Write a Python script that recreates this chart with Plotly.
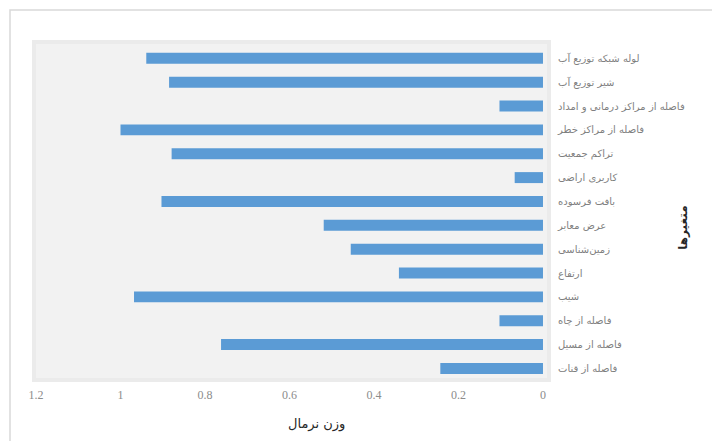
import plotly.graph_objects as go

categories = [
    "لوله شبکه توزیع آب",
    "شیر توزیع آب",
    "فاصله از مراکز درمانی و امداد",
    "فاصله از مراکز خطر",
    "تراکم جمعیت",
    "کاربری اراضی",
    "بافت فرسوده",
    "عرض معابر",
    "زمین‌شناسی",
    "ارتفاع",
    "شیب",
    "فاصله از چاه",
    "فاصله از مسیل",
    "فاصله از قنات",
]
values = [0.939, 0.885, 0.103, 1.0, 0.879, 0.067, 0.903, 0.519, 0.455, 0.341, 0.968, 0.103, 0.762, 0.243]
x_ticks = [0, 0.2, 0.4, 0.6, 0.8, 1, 1.2]
x_tick_labels = ["0", "0.2", "0.4", "0.6", "0.8", "1", "1.2"]
x_title = "وزن نرمال"
y_title = "متغیرها"

W, H = 720, 441
OFF = 8  # page body margin
# plot area in page pixels
PL, PR, PT, PB = 36, 547, 44, 378.5
ml, mr, mt, mb = PL - OFF, W - (PR - OFF), PT - OFF, H - (PB - OFF)
pw, ph = PR - PL, PB - PT


def px(x):
    return (x - PL) / pw


def py(y):
    return (PB - y) / ph


fig = go.Figure(go.Bar(
    x=values, y=categories, orientation="h",
    marker=dict(color="#5b9bd5", line=dict(width=0)),
))

fig.update_layout(
    width=W, height=H,
    margin=dict(l=ml, r=mr, t=mt, b=mb),
    paper_bgcolor="white",
    plot_bgcolor="rgba(0,0,0,0)",
    bargap=0.54,
    showlegend=False,
    font=dict(family="DejaVu Sans", size=11, color="#595959"),
    xaxis=dict(
        range=[1.2, -0.0095], tickvals=x_ticks, ticktext=x_tick_labels,
        showgrid=False, zeroline=False, showline=False, ticks="",
        tickfont=dict(family="Liberation Serif", size=12, color="#8c8c8c"),
        ticklabelstandoff=8,
    ),
    yaxis=dict(
        side="right", range=[13.4, -0.6], showgrid=False, zeroline=False,
        showline=False, ticks="", ticklabelstandoff=10,
        tickfont=dict(family="DejaVu Sans", size=10, color="#7f7f7f"),
    ),
    shapes=[
        dict(type="rect", xref="paper", yref="paper",
             x0=px(PL - 4), x1=px(PR + 4), y0=py(PB + 4), y1=py(PT - 4),
             fillcolor="#ebebeb", line=dict(width=0), layer="below"),
        dict(type="rect", xref="paper", yref="paper",
             x0=0, x1=1, y0=0, y1=1,
             fillcolor="#f2f2f2", line=dict(width=0), layer="below"),
        dict(type="rect", xref="paper", yref="paper",
             x0=px(10), x1=px(W + 20), y0=py(H + 20), y1=py(10),
             fillcolor="rgba(0,0,0,0)", line=dict(color="#d9d9d9", width=1.5), layer="below"),
    ],
    annotations=[
        dict(text=x_title, xref="paper", yref="paper",
             x=px(316.6), y=py(425),
             showarrow=False, font=dict(family="DejaVu Sans", size=13, color="#262626"),
             xanchor="center", yanchor="middle"),
        dict(text="<b>" + y_title + "</b>", xref="paper", yref="paper",
             x=px(683), y=py(228),
             showarrow=False, textangle=-90,
             font=dict(family="DejaVu Sans", size=12, color="#262626"),
             xanchor="center", yanchor="middle"),
    ],
)

fig.write_html("out.html")
